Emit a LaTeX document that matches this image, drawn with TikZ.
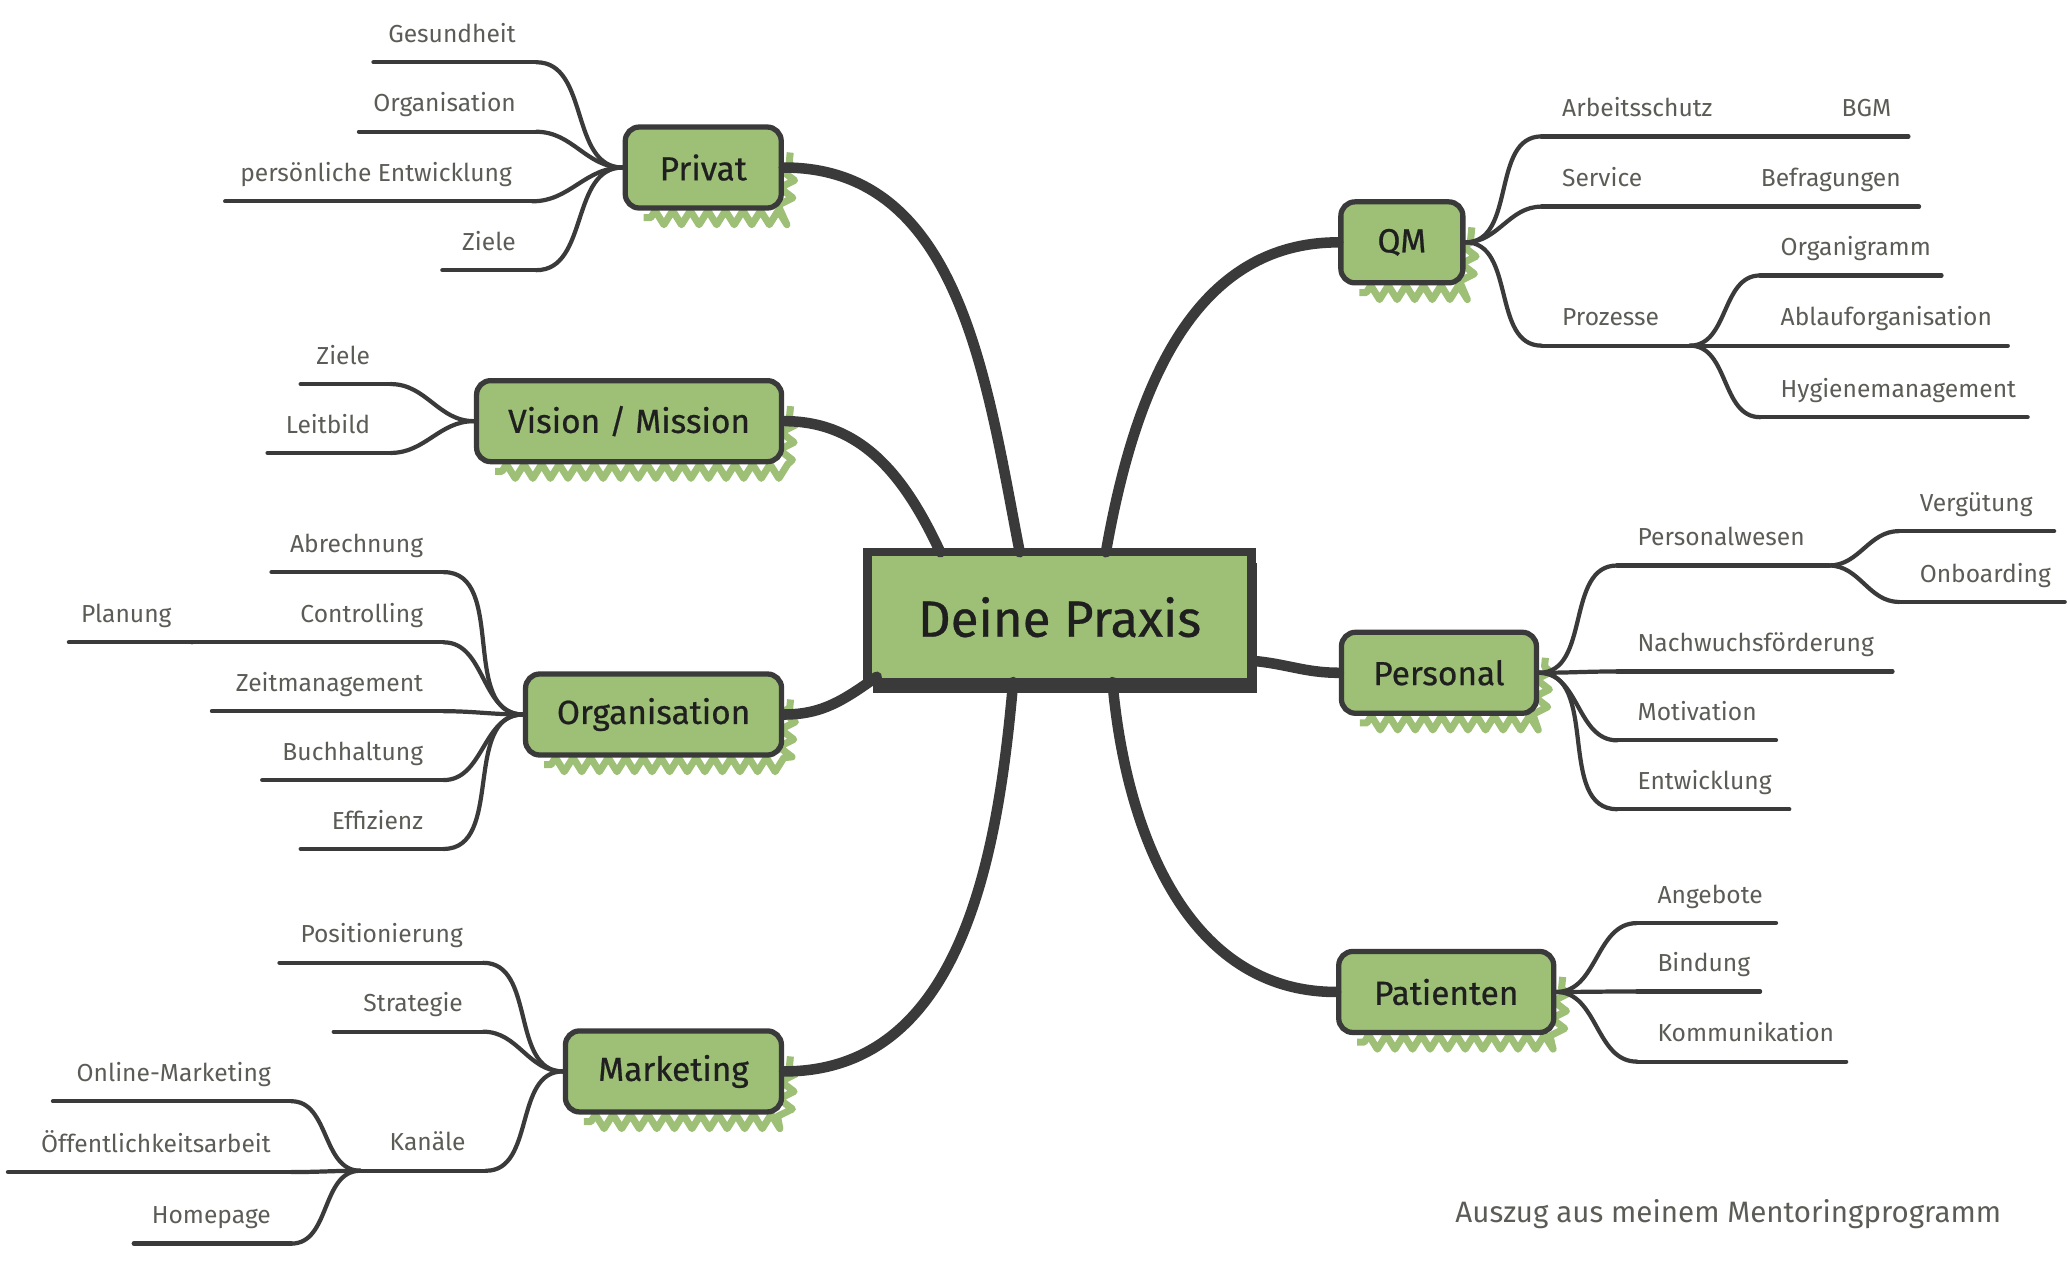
\documentclass[tikz,border=0pt]{standalone}
\usepackage{fontspec}
\setmainfont{Fira Sans}
\newfontfamily\boxfont[FakeBold=0.6]{Fira Sans}
\usepackage{tikz}
\usetikzlibrary{shapes}
\usetikzlibrary{positioning}
\usetikzlibrary{decorations.pathmorphing,shadows,backgrounds}
\definecolor{ink}{HTML}{3A3A3A}
\definecolor{boxgreen}{HTML}{9DBF76}
\definecolor{leaftext}{HTML}{5C5C57}

\tikzset{
  topic/.style={draw=ink, line width=1.5pt, rounded corners=4pt, fill=boxgreen,
    inner sep=0pt, minimum height=0.81cm, text=black!88,
    font=\boxfont\fontsize{9.5}{11}\selectfont},
  hatch/.style={draw=boxgreen, line width=2pt, line join=round, decorate,
    decoration={zigzag, segment length=5pt, amplitude=2pt,
      pre length=2pt, post length=2pt}},
  core/.style={draw=ink, line width=2.4pt, fill=boxgreen, inner sep=0pt,
    minimum width=3.84cm, minimum height=1.30cm, text=black!88,
    font=\boxfont\fontsize{14.5}{16}\selectfont,
    drop shadow={shadow xshift=1.5pt, shadow yshift=-3pt, fill=ink, opacity=1}},
  leaf/.style={font=\fontsize{7}{8}\selectfont, text=leaftext, inner sep=0pt},
  twig/.style={draw=ink, line width=1.2pt, line cap=round},
  bough/.style={draw=ink, line width=3pt, line cap=round},
}

% leaf with its underline: name, y, x left, x right, text
\newcommand{\leftleaf}[5]{%
  \coordinate (#1-a) at (#3,#2);
  \coordinate (#1-b) at (#4,#2);
  \draw[twig] (#1-a) -- (#1-b);
  \node[leaf, anchor=base east] (#1) at (#4-0.15,#2+0.15) {#5};}
\newcommand{\rightleaf}[5]{%
  \coordinate (#1-a) at (#3,#2);
  \coordinate (#1-b) at (#4,#2);
  \draw[twig] (#1-a) -- (#1-b);
  \node[leaf, anchor=base west] (#1) at (#3+0.15,#2+0.15) {#5};}

\begin{document}
\begin{tikzpicture}[x=1.3244cm, y=1.3244cm]
\useasboundingbox (0,0) rectangle (15.63,9.57);

% centre and main topics
\node[core] (praxis) at (8.00,4.91) {Deine Praxis};
\node[topic, minimum width=1.56cm] (privat) at (5.31,8.305) {Privat};
\node[topic, minimum width=3.05cm] (vision) at (4.75,6.39) {Vision / Mission};
\node[topic, minimum width=2.56cm] (org) at (4.935,4.175) {Organisation};
\node[topic, minimum width=2.16cm] (mkt) at (5.085,1.48) {Marketing};
\node[topic, minimum width=1.22cm] (qm) at (10.585,7.74) {QM};
\node[topic, minimum width=1.95cm] (pers) at (10.865,4.49) {Personal};
\node[topic, minimum width=2.15cm] (pat) at (10.92,2.08) {Patienten};

% sketchy green edges under the topics
\begin{scope}[on background layer]
\foreach \t in {privat,vision,org,mkt,qm,pers,pat}
  \draw[hatch] ([xshift=6pt,yshift=-2pt]\t.south west)
    -- ([xshift=0pt,yshift=-2pt]\t.south east)
    -- ([xshift=1.8pt,yshift=-8pt]\t.north east);
\end{scope}

\coordinate (tPriv) at (7.70,5.40);
\coordinate (tVis) at (7.10,5.40);
\coordinate (tOrg) at (6.62,4.46);
\coordinate (tMkt) at (7.65,4.42);
\coordinate (tQM) at (8.35,5.40);
\coordinate (tPers) at (9.46,4.58);
\coordinate (tPat) at (8.40,4.42);
\draw[bough] (tPriv) to[out=101,in=0] (privat.east);
\draw[bough] (tVis) to[out=115,in=0] (vision.east);
\draw[bough] (tOrg) to[out=215,in=0] (org.east);
\draw[bough] (tMkt) to[out=265,in=0] (mkt.east);
\draw[bough] (tQM) to[out=80,in=180] (qm.west);
\draw[bough] (tPers) to[out=-5,in=180] (pers.west);
\draw[bough] (tPat) to[out=275,in=180] (pat.west);

% Privat
\leftleaf{ges}{9.10}{2.82}{4.05}{Gesundheit}
\leftleaf{orgp}{8.575}{2.71}{4.05}{Organisation}
\leftleaf{entp}{8.05}{1.70}{4.02}{persönliche Entwicklung}
\leftleaf{zielp}{7.53}{3.34}{4.05}{Ziele}
\foreach \l in {ges,orgp,entp,zielp}
  \draw[twig] (privat.west) to[out=180,in=0] (\l-b);

% Vision / Mission
\leftleaf{zielv}{6.67}{2.27}{2.95}{Ziele}
\leftleaf{leit}{6.15}{2.02}{2.95}{Leitbild}
\foreach \l in {zielv,leit}
  \draw[twig] (vision.west) to[out=180,in=0] (\l-b);

% Organisation
\leftleaf{abr}{5.25}{2.05}{3.35}{Abrechnung}
\leftleaf{ctrl}{4.72}{1.45}{3.35}{Controlling}
\leftleaf{plan}{4.72}{0.52}{1.45}{Planung}
\leftleaf{zeit}{4.20}{1.60}{3.35}{Zeitmanagement}
\leftleaf{buch}{3.68}{1.98}{3.35}{Buchhaltung}
\leftleaf{eff}{3.16}{2.27}{3.35}{Effizienz}
\foreach \l in {abr,ctrl,zeit,buch,eff}
  \draw[twig] (org.west) to[out=180,in=0] (\l-b);
\draw[twig] (ctrl-a) -- (plan-b);

% Marketing
\leftleaf{posi}{2.30}{2.11}{3.65}{Positionierung}
\leftleaf{strat}{1.78}{2.52}{3.65}{Strategie}
\leftleaf{kan}{0.73}{2.72}{3.67}{Kanäle}
\foreach \l in {posi,strat,kan}
  \draw[twig] (mkt.west) to[out=180,in=0] (\l-b);
\leftleaf{onl}{1.255}{0.40}{2.20}{Online-Marketing}
\leftleaf{oeff}{0.72}{0.06}{2.20}{Öffentlichkeitsarbeit}
\leftleaf{home}{0.18}{1.01}{2.20}{Homepage}
\foreach \l in {onl,oeff,home}
  \draw[twig] (kan-a) to[out=180,in=0] (\l-b);

% QM
\rightleaf{arb}{8.54}{11.64}{13.75}{Arbeitsschutz}
\rightleaf{bgm}{8.54}{13.75}{14.41}{BGM}
\rightleaf{serv}{8.01}{11.64}{13.14}{Service}
\rightleaf{befr}{8.01}{13.14}{14.49}{Befragungen}
\rightleaf{proz}{6.96}{11.64}{12.76}{Prozesse}
\foreach \l in {arb,serv,proz}
  \draw[twig] (qm.east) to[out=0,in=180] (\l-a);
\rightleaf{orgm}{7.49}{13.29}{14.66}{Organigramm}
\rightleaf{abl}{6.96}{13.29}{15.16}{Ablauforganisation}
\rightleaf{hyg}{6.42}{13.29}{15.31}{Hygienemanagement}
\foreach \l in {orgm,abl,hyg}
  \draw[twig] (proz-b) to[out=0,in=180] (\l-a);

% Personal
\rightleaf{pw}{5.30}{12.21}{13.81}{Personalwesen}
\rightleaf{nach}{4.50}{12.21}{14.29}{Nachwuchsförderung}
\rightleaf{moti}{3.98}{12.21}{13.41}{Motivation}
\rightleaf{entw}{3.46}{12.21}{13.51}{Entwicklung}
\foreach \l in {pw,nach,moti,entw}
  \draw[twig] (pers.east) to[out=0,in=180] (\l-a);
\rightleaf{verg}{5.56}{14.34}{15.51}{Vergütung}
\rightleaf{onb}{5.025}{14.34}{15.59}{Onboarding}
\foreach \l in {verg,onb}
  \draw[twig] (pw-b) to[out=0,in=180] (\l-a);

% Patienten
\rightleaf{ang}{2.60}{12.36}{13.41}{Angebote}
\rightleaf{bind}{2.084}{12.36}{13.29}{Bindung}
\rightleaf{komm}{1.554}{12.36}{13.94}{Kommunikation}
\foreach \l in {ang,bind,komm}
  \draw[twig] (pat.east) to[out=0,in=180] (\l-a);

\node[leaf, font=\fontsize{8.4}{10}\selectfont] (note) at (13.05,0.40) {Auszug aus meinem Mentoringprogramm};
\end{tikzpicture}
\end{document}
